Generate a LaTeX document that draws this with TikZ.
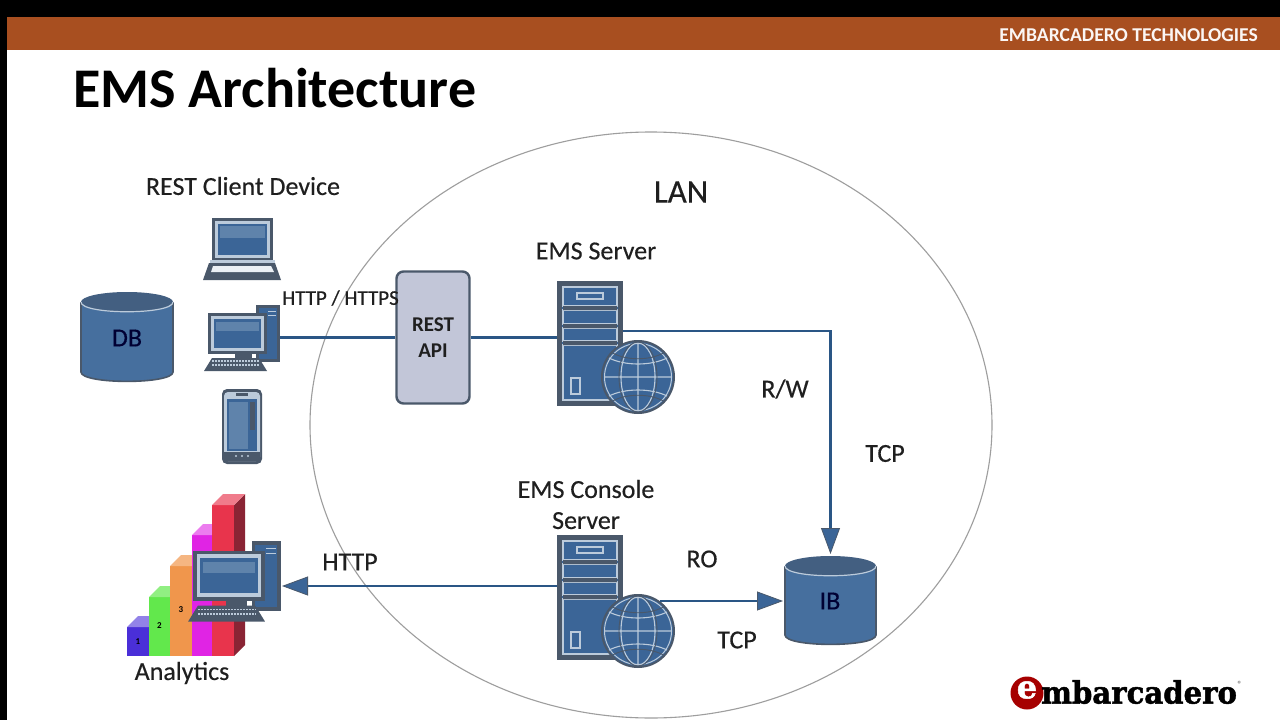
\documentclass[tikz,border=0pt]{standalone}
\usepackage{fontspec}
\setmainfont{Carlito}
\newfontfamily\labelfont[FakeBold=0.35]{Carlito}
\newfontfamily\logofont[FakeBold=1.5]{DejaVu Serif}
\usetikzlibrary{arrows.meta,calc}
\definecolor{bandbrown}{HTML}{A84F20}
\definecolor{iconblue}{HTML}{3B6597}
\definecolor{icondark}{HTML}{4A586A}
\definecolor{iconlight}{HTML}{BCCBDB}
\definecolor{iconpale}{HTML}{5F83AB}
\definecolor{linkblue}{HTML}{2A5685}
\definecolor{cylblue}{HTML}{466F9E}
\definecolor{textdark}{HTML}{1F1F1F}
\definecolor{restfill}{HTML}{C2C6D8}
\definecolor{barblue}{HTML}{4A2FD8}
\definecolor{bargreen}{HTML}{62E84C}
\definecolor{barorange}{HTML}{F0964C}
\definecolor{barmagenta}{HTML}{E024E4}
\definecolor{barred}{HTML}{E8344C}
\definecolor{barside}{HTML}{8A2434}
\newcommand{\fs}[1]{\fontsize{#1}{#1}\selectfont}
\tikzset{
  x=1pt,y=-1pt,
  label text/.style={text=textdark,inner sep=0pt,font=\labelfont\fs{26}},
  small label/.style={text=textdark,inner sep=0pt,font=\labelfont\fs{21}},
  anchor box/.style={inner sep=0pt,minimum width=#1,outer sep=0pt},
  link/.style={draw=linkblue,line width=2.4pt},
  arrowed/.style={link,-{Triangle[length=26pt,width=19pt,fill=iconblue,color=icondark,line width=.8pt]}},
  pics/towerserver/.style={code={
    \fill[icondark] (557,281) rectangle (623,406);
    \fill[iconblue] (562,286) rectangle (618,400);
    \draw[iconlight,line width=1.1pt] (563,287) rectangle (617,306)
      (563,310) rectangle (617,324) (563,328) rectangle (617,341)
      (563,345) rectangle (617,400);
    \draw[iconlight,line width=1.1pt] (577,293) rectangle (603,299);
    \draw[iconlight,line width=1.1pt] (571,378) rectangle (580,394);
    \fill[icondark] (563,341) rectangle (617,345) (563,306) rectangle (617,310) (563,324) rectangle (617,328);
    \fill[iconblue] (638,377) circle (36);
    \draw[icondark,line width=2pt] (638,377) circle (36);
    \draw[iconlight,line width=1pt] (638,377) circle (33.5);
    \draw[iconlight,line width=1.1pt] (638,377) ellipse (17 and 34) (638,343) -- (638,411)
      (604,377) -- (672,377);
    \draw[iconlight,line width=1.1pt] (609,358) .. controls (625,366) and (651,366) .. (667,358)
      (609,396) .. controls (625,388) and (651,388) .. (667,396);
    \draw[icondark,line width=.9pt] (638,377) ellipse (19 and 35)
      (611,352) .. controls (625,361) and (651,361) .. (665,352)
      (611,402) .. controls (625,393) and (651,393) .. (665,402);
  }},
  pics/desktoppc/.style={code={
    \fill[icondark] (256,305) rectangle (280,362);
    \fill[iconblue] (259,308) rectangle (277,359);
    \draw[iconlight,line width=1pt] (268,311) -- (276,311) (268,315) -- (276,315);
    \fill[icondark] (235,352) rectangle (252,362);
    \fill[icondark] (208,313) rectangle (267,354);
    \fill[iconlight] (211,316) rectangle (264,351);
    \fill[iconblue] (214,319) rectangle (261,348);
    \fill[iconpale] (216,322) rectangle (259,331);
    \fill[icondark] (212,358) -- (259,358) -- (267,371) -- (204,371) -- cycle;
    \foreach \r in {361,365}
      \draw[iconlight,line width=1.6pt,dash pattern=on 2pt off 1pt] (212,\r) -- (259,\r);
  }},
  pics/laptoppc/.style={code={
    \fill[icondark] (212,218) rectangle (273,261);
    \fill[iconlight] (215,221) rectangle (270,258);
    \fill[iconblue] (218,224) rectangle (267,255);
    \fill[iconpale] (220,226) rectangle (265,238);
    \fill[iconlight] (210,260) rectangle (275,263);
    \fill[icondark] (209,263) -- (275,263) -- (281,280) -- (203,280) -- cycle;
    \fill[white!90!iconblue] (213,266) -- (271,266) -- (274,272) -- (211,272) -- cycle;
  }},
  pics/handphone/.style={code={
    \fill[icondark,rounded corners=5pt] (222,389) rectangle (262,464);
    \fill[iconlight,rounded corners=4pt] (224,392) rectangle (260,461);
    \fill[iconblue] (227,399) rectangle (257,451);
    \fill[iconpale] (229,402) rectangle (248,449);
    \fill[icondark] (250,402) rectangle (255,430);
    \fill[icondark] (224,452) rectangle (260,461);
    \fill[iconlight] (236,456) circle (1.2) (242,456) circle (1.2) (248,456) circle (1.2);
    \fill[icondark] (236,393) rectangle (248,396);
  }}
}
\newcommand{\barcol}[5]{% left, right, top, front colour, top colour
  \fill[#4] (#1,656) rectangle (#2,#3);
  \fill[#5] (#1,#3) -- (#1+11,#3-11) -- (#2+11,#3-11) -- (#2,#3) -- cycle;
}
\newcommand{\drum}[5]{% left, right, top, bottom, rim height
  \fill[cylblue] (#1,#3+#5) -- (#1,#4-#5)
    .. controls (#1,#4+#5*.25) and (#2,#4+#5*.25) .. (#2,#4-#5)
    -- (#2,#3+#5) -- cycle;
  \draw[icondark,line width=1.6pt] (#1,#3+#5) -- (#1,#4-#5)
    .. controls (#1,#4+#5*.25) and (#2,#4+#5*.25) .. (#2,#4-#5) -- (#2,#3+#5);
  \fill[icondark!50!iconblue] ({(#1+#2)/2},#3+#5) ellipse ({(#2-#1)/2} and #5);
  \draw[iconlight,line width=1.2pt] (#1,#3+#5)
    .. controls (#1,#3+#5*2.3) and (#2,#3+#5*2.3) .. (#2,#3+#5);
}
\begin{document}
\begin{tikzpicture}
\useasboundingbox (0,0) rectangle (1280,720);
\fill[white] (0,0) rectangle (1280,720);
% slide frame and heading band
\fill[black] (0,0) rectangle (1280,17);
\fill[black] (0,0) rectangle (6.5,720);
\fill[bandbrown] (6.5,17) rectangle (1280,50);
\node[text=white!95!bandbrown,font=\fs{19.6}\bfseries,inner sep=0pt,anchor=east] (brand) at (1258,35) {EMBARCADERO TECHNOLOGIES};
\node[text=black,font=\fs{56}\bfseries,inner sep=0pt,anchor=west] (title) at (73,88) {EMS Architecture};

% local network boundary
\draw[black!38,line width=1.1pt] (651,425) ellipse (341 and 293);
\node[label text,font=\labelfont\fs{33}] (lan) at (681,192) {LAN};

% device icons
\pic {laptoppc};
\pic {desktoppc};
\pic {handphone};
\drum{81}{173}{292}{382}{10}
\pic {towerserver};
\pic[yshift=-254pt] {towerserver};
\drum{785}{876}{556}{645}{10}

% analytics bar chart with workstation in front
\fill[barside] (234,656) -- (245,645) -- (245,494) -- (234,505) -- cycle;
\barcol{127}{149}{627}{barblue}{barblue!60!white}
\barcol{149}{170}{597}{bargreen}{bargreen!70!white}
\barcol{170}{192}{566}{barorange}{barorange!70!white}
\barcol{192}{212}{535}{barmagenta}{barmagenta!60!white}
\barcol{212}{234}{505}{barred}{barred!65!white}
\node[font=\fs{9}\bfseries,inner sep=0pt] (barone) at (138,642) {1};
\node[font=\fs{9}\bfseries,inner sep=0pt] (bartwo) at (159.5,626) {2};
\node[font=\fs{9}\bfseries,inner sep=0pt] (barthree) at (181,610) {3};
\pic[transform shape,shift={(-60.76,168.9)},scale=1.22] {desktoppc};

% anchor boxes the connectors attach to
\node[anchor box=78,minimum height=57] (desktop) at (241,333.5) {};
\node[anchor box=66,minimum height=125] (server) at (590,343.5) {};
\node[anchor box=66,minimum height=125] (console) at (590,597.5) {};
\node[anchor box=91,minimum height=89] (ib) at (830.5,600.5) {};
\node[anchor box=92,minimum height=80] (analytics) at (236,581) {};
\coordinate (serverport) at (623,331);
\coordinate (consolewest) at (557,586);
\coordinate (consoleport) at (660,601);

\node[draw=icondark,line width=2.4pt,fill=restfill,rounded corners=7pt,
  minimum width=73,minimum height=132,inner sep=0pt,align=center,text=textdark,
  font=\fs{21}\bfseries] (rest) at (433,337.5) {REST\\[5pt]API};

% connectors
\draw[link] (desktop.east |- rest.west) -- (rest.west);
\draw[link] (rest.east) -- (rest.east -| server.west);
\draw[arrowed,shorten >=2pt] (serverport) -| (ib.north);
\draw[arrowed] (consolewest) -- (analytics.east |- consolewest);
\draw[arrowed,shorten >=2pt] (consoleport) -- (ib.west |- consoleport);

% labels
\node[label text] (clientlabel) at (243,186) {REST Client Device};
\node[label text] (serverlabel) at (596,251) {EMS Server};
\node[small label] (httpslabel) at (340.5,298) {HTTP / HTTPS};
\node[label text,text=black!80!blue] (dblabel) at (127,338) {DB};
\node[label text,text=black!80!blue] (iblabel) at (830,601) {IB};
\node[label text] (rwlabel) at (785,389) {R/W};
\node[label text] (tcpa) at (885,453.5) {TCP};
\node[label text,align=center] (consolelabel) at (586,504.5) {EMS Console\\[5pt]Server};
\node[label text] (rolabel) at (702,559) {RO};
\node[label text] (tcpb) at (737,640) {TCP};
\node[label text] (httplabel) at (350,562) {HTTP};
\node[label text] (analyticslabel) at (182,673) {Analytics};

% vendor mark
\fill[red!65!black] (1027,693) circle (16.5);
\node[text=white,font=\logofont\fs{32}\bfseries,inner sep=0pt] (logoe) at (1027,690) {e};
\node[text=black,font=\logofont\fs{31}\bfseries,inner sep=0pt,anchor=west,xscale=.94] (logo) at (1041,692) {mbarcadero};
\node[text=black!70,font=\fs{9},inner sep=0pt] (logor) at (1240,684) {®};
\end{tikzpicture}
\end{document}
